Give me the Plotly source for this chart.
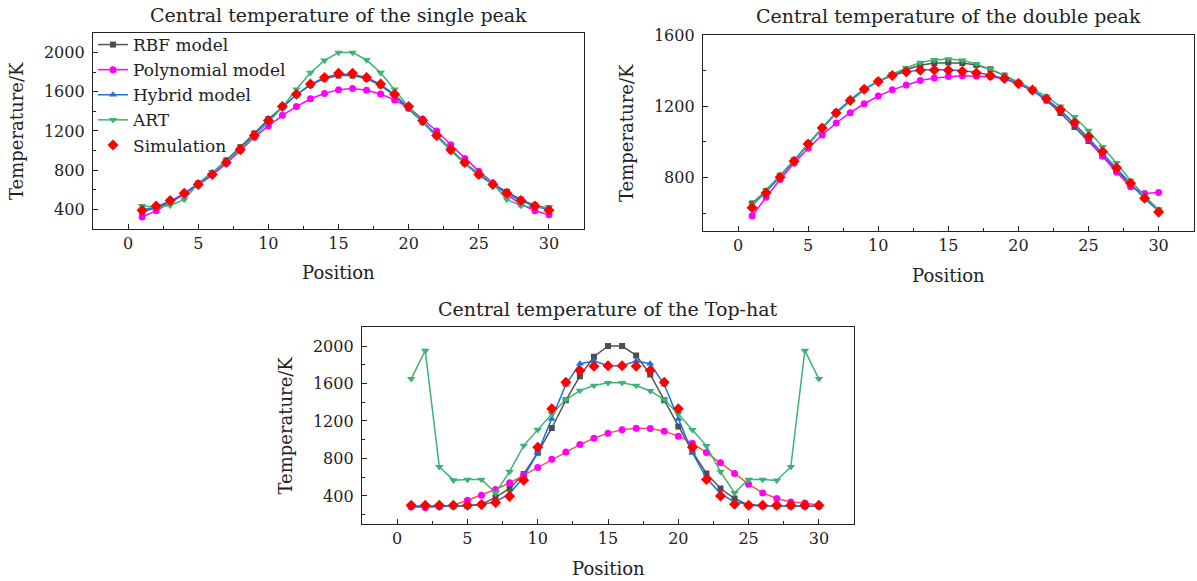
import plotly.graph_objects as go

positions = list(range(1, 31))
series_names = ["RBF model", "Polynomial model", "Hybrid model", "ART", "Simulation"]
panel_titles = ["Central temperature of the single peak",
                "Central temperature of the double peak",
                "Central temperature of the Top-hat"]
x_label = "Position"
y_label = "Temperature/K"

# single peak
sp_rbf = [375, 415, 475, 560, 665, 770, 900, 1035, 1175, 1320, 1450, 1570, 1670, 1735, 1765,
          1765, 1735, 1665, 1560, 1430, 1290, 1150, 1000, 870, 750, 660, 580, 500, 440, 410]
sp_poly = [323, 385, 470, 555, 650, 750, 870, 1000, 1135, 1251, 1360, 1449, 1529, 1583, 1622,
           1633, 1615, 1578, 1517, 1440, 1320, 1200, 1060, 920, 790, 670, 550, 455, 385, 345]
sp_hyb = [395, 425, 485, 560, 660, 765, 885, 1020, 1165, 1310, 1445, 1570, 1675, 1745, 1780,
          1780, 1745, 1675, 1570, 1440, 1300, 1155, 1010, 875, 755, 655, 560, 490, 430, 400]
sp_art = [435, 425, 440, 500, 665, 780, 890, 1020, 1140, 1290, 1445, 1625, 1795, 1920, 2000,
          2000, 1925, 1795, 1625, 1445, 1290, 1140, 1010, 870, 770, 665, 500, 440, 415, 425]
sp_sim = [391, 435, 490, 565, 653, 756, 878, 1010, 1153, 1306, 1449, 1575, 1680, 1745, 1789,
          1789, 1745, 1680, 1575, 1449, 1306, 1153, 1010, 878, 756, 653, 565, 490, 435, 391]

# double peak
dp_rbf = [655, 725, 810, 895, 990, 1080, 1165, 1235, 1295, 1340, 1375, 1405, 1430, 1443, 1445,
          1443, 1432, 1408, 1372, 1332, 1290, 1232, 1162, 1084, 1005, 923, 840, 760, 685, 615]
dp_poly = [584, 690, 789, 882, 964, 1039, 1106, 1164, 1214, 1257, 1292, 1320, 1344, 1359, 1367,
           1371, 1369, 1365, 1354, 1325, 1288, 1238, 1175, 1100, 1015, 919, 830, 748, 711, 716]
dp_hyb = [645, 720, 805, 895, 990, 1080, 1165, 1235, 1297, 1340, 1372, 1393, 1403, 1406, 1405,
          1400, 1390, 1375, 1355, 1327, 1290, 1240, 1178, 1102, 1020, 935, 848, 763, 683, 612]
dp_art = [650, 730, 812, 900, 990, 1075, 1158, 1228, 1290, 1340, 1380, 1415, 1445, 1460, 1465,
          1458, 1438, 1408, 1375, 1335, 1298, 1255, 1200, 1140, 1063, 972, 882, 783, 696, 621]
dp_sim = [630, 714, 802, 891, 988, 1078, 1162, 1233, 1296, 1339, 1373, 1393, 1402, 1404, 1402,
          1397, 1387, 1373, 1356, 1328, 1291, 1242, 1180, 1108, 1029, 945, 854, 768, 684, 606]

# top-hat
th_rbf = [290, 290, 290, 290, 292, 310, 385, 480, 635, 860, 1125, 1420, 1678, 1886, 2000,
          2000, 1900, 1696, 1420, 1141, 872, 640, 479, 372, 300, 292, 290, 290, 290, 290]
th_poly = [282, 275, 285, 300, 353, 407, 469, 540, 622, 704, 790, 869, 948, 1016, 1070,
           1105, 1123, 1120, 1091, 1038, 963, 862, 754, 640, 525, 432, 372, 335, 325, 300]
th_hyb = [290, 290, 290, 290, 295, 310, 335, 425, 600, 862, 1220, 1589, 1811, 1840, 1790,
          1790, 1840, 1811, 1589, 1220, 862, 590, 425, 335, 310, 295, 290, 290, 290, 290]
th_art = [1650, 1950, 711, 568, 575, 575, 432, 658, 937, 1105, 1275, 1428, 1524, 1578, 1607,
          1607, 1578, 1520, 1428, 1275, 1105, 934, 658, 432, 575, 575, 565, 711, 1950, 1650]
th_sim = [300, 300, 300, 300, 300, 307, 329, 395, 568, 920, 1331, 1613, 1739, 1785, 1790,
          1790, 1785, 1739, 1613, 1331, 920, 576, 400, 310, 300, 300, 300, 300, 300, 300]

FONT = "DejaVu Serif"
C_RBF, C_POLY, C_HYB, C_ART, C_SIM = "#4d4d4d", "#ff00ff", "#1f6fdc", "#3cb371", "#ff0000"
C_POLY_LINE3 = "#ff4d55"

panels = [
    dict(data=[sp_rbf, sp_poly, sp_hyb, sp_art, sp_sim], xd=[0.0777, 0.4879], yd=[0.6059, 0.9432],
         yr=[200, 2200], poly_line=C_POLY),
    dict(data=[dp_rbf, dp_poly, dp_hyb, dp_art, dp_sim], xd=[0.5873, 0.9972], yd=[0.6024, 0.9398],
         yr=[500, 1600], poly_line=C_POLY),
    dict(data=[th_rbf, th_poly, th_hyb, th_art, th_sim], xd=[0.3024, 0.7135], yd=[0.0981, 0.4367],
         yr=[100, 2200], poly_line=C_POLY_LINE3),
]

fig = go.Figure()
W, H = 1197, 581
annotations = []
for i, p in enumerate(panels):
    sfx = "" if i == 0 else str(i + 1)
    xa, ya = "x" + sfx, "y" + sfx
    rbf, poly, hyb, art, sim = p["data"]
    show = (i == 0)
    fig.add_trace(go.Scatter(x=positions, y=rbf, name=series_names[0], mode="lines+markers",
                             line=dict(color="#555555", width=1.5),
                             marker=dict(symbol="square", size=6, color=C_RBF),
                             xaxis=xa, yaxis=ya, showlegend=show))
    fig.add_trace(go.Scatter(x=positions, y=poly, name=series_names[1], mode="lines+markers",
                             line=dict(color=p["poly_line"], width=1.5),
                             marker=dict(symbol="circle", size=7, color=C_POLY),
                             xaxis=xa, yaxis=ya, showlegend=show))
    fig.add_trace(go.Scatter(x=positions, y=hyb, name=series_names[2], mode="lines+markers",
                             line=dict(color=C_HYB, width=1.5),
                             marker=dict(symbol="triangle-up", size=7, color=C_HYB),
                             xaxis=xa, yaxis=ya, showlegend=show))
    fig.add_trace(go.Scatter(x=positions, y=art, name=series_names[3], mode="lines+markers",
                             line=dict(color=C_ART, width=1.5),
                             marker=dict(symbol="triangle-down", size=7.5, color=C_ART),
                             xaxis=xa, yaxis=ya, showlegend=show))
    fig.add_trace(go.Scatter(x=positions, y=sim, name=series_names[4], mode="markers",
                             marker=dict(symbol="diamond", size=8.5, color=C_SIM),
                             xaxis=xa, yaxis=ya, showlegend=show))

    axis_common = dict(showline=True, linecolor="#222222", linewidth=1.3, mirror=True,
                       ticks="inside", ticklen=5, tickwidth=1.2, tickcolor="#222222",
                       showgrid=False, zeroline=False, automargin=False,
                       tickfont=dict(family=FONT, size=16, color="#222222"))
    fig.update_layout(**{
        "xaxis" + sfx: dict(axis_common, domain=p["xd"], range=[-2.5, 32.5], tick0=0, dtick=5,
                            anchor=ya,
                            minor=dict(dtick=2.5, ticks="inside", ticklen=3, tickcolor="#222222")),
        "yaxis" + sfx: dict(axis_common, domain=p["yd"], range=p["yr"], tick0=0, dtick=400,
                            anchor=xa, ticklabelstandoff=4,
                            minor=dict(dtick=200, ticks="inside", ticklen=3, tickcolor="#222222")),
    })
    xc = (p["xd"][0] + p["xd"][1]) / 2
    annotations.append(dict(text=panel_titles[i], xref="paper", yref="paper", x=xc,
                            y=p["yd"][1] + 18.5 / H, xanchor="center", yanchor="middle",
                            showarrow=False, font=dict(family=FONT, size=19, color="#222222")))
    annotations.append(dict(text=x_label, xref="paper", yref="paper", x=xc,
                            y=p["yd"][0] - 44 / H, xanchor="center", yanchor="middle",
                            showarrow=False, font=dict(family=FONT, size=18, color="#222222")))
    annotations.append(dict(text=y_label, xref="paper", yref="paper", x=p["xd"][0] - 76 / W,
                            y=(p["yd"][0] + p["yd"][1]) / 2, xanchor="center", yanchor="middle",
                            textangle=-90, showarrow=False,
                            font=dict(family=FONT, size=18, color="#222222")))

fig.update_layout(
    width=W, height=H, autosize=False,
    margin=dict(l=0, r=0, t=0, b=0, autoexpand=False),
    paper_bgcolor="white", plot_bgcolor="white",
    annotations=annotations,
    legend=dict(x=0.0777, y=0.9432 + 6 / H, xanchor="left", yanchor="top",
                bgcolor="rgba(0,0,0,0)", font=dict(family=FONT, size=17, color="#222222"),
                itemwidth=30, tracegroupgap=0),
)

fig.write_html("out.html")
